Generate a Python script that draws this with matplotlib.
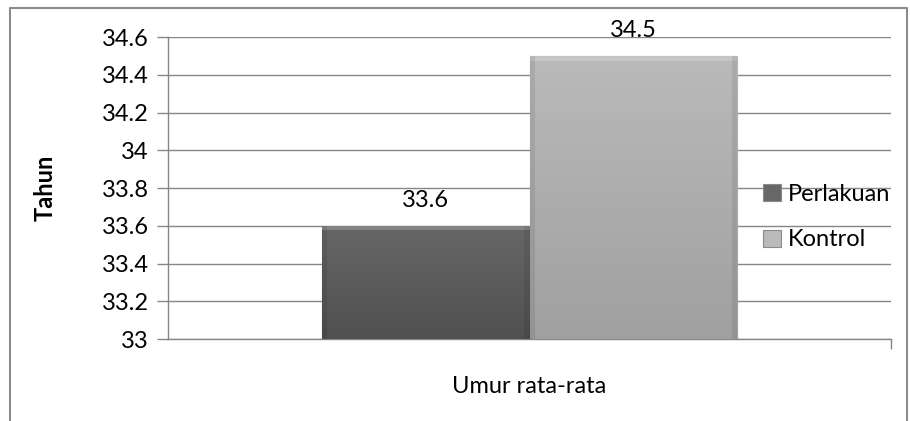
import numpy as np
import matplotlib.pyplot as plt
from matplotlib.patches import Rectangle
from matplotlib.lines import Line2D

# data
category = 'Umur rata-rata'
series = ['Perlakuan', 'Kontrol']
values = [33.6, 34.5]
colors_top = ['#676767', '#bababa']
colors_bot = ['#505050', '#a0a0a0']
yticks = [33, 33.2, 33.4, 33.6, 33.8, 34, 34.2, 34.4, 34.6]

plt.rcParams['font.family'] = ['Lato', 'DejaVu Sans']
fs = 17

fig = plt.figure(figsize=(9.1, 4.21), dpi=100)
ax = fig.add_axes([168 / 910, 82 / 421, 723 / 910, 302 / 421])

# outer chart border
fig.add_artist(Line2D([10 / 910, 10 / 910, 907 / 910, 907 / 910],
                      [0, 1 - 8 / 421, 1 - 8 / 421, 0],
                      transform=fig.transFigure, color='#8c8c8c', lw=1.5))

width = 0.287
offsets = [-width / 2, width / 2]
ylo = yticks[0]
for i, (name, v) in enumerate(zip(series, values)):
    b = ax.bar(offsets[i], v - ylo, width, bottom=ylo, color=colors_top[i],
               edgecolor='#8a8a8a', linewidth=0.8, label=name, zorder=3)[0]
    # vertical gradient clipped to the bar
    c1 = np.array(plt.matplotlib.colors.to_rgb(colors_top[i]))
    c2 = np.array(plt.matplotlib.colors.to_rgb(colors_bot[i]))
    t = np.linspace(0, 1, 100)[:, None]
    grad = (c1 * (1 - t) + c2 * t)[:, None, :]
    x0 = offsets[i] - width / 2
    im = ax.imshow(grad, extent=[x0, x0 + width, ylo, v], origin='upper',
                   aspect='auto', zorder=3.5)
    im.set_clip_path(b)
    # soft bevel along the top and sides
    ax.add_patch(Rectangle((x0, v - 0.025), width, 0.025,
                           facecolor='white', alpha=0.2, lw=0, zorder=4))
    ax.add_patch(Rectangle((x0, ylo), 0.007, v - ylo,
                           facecolor='black', alpha=0.08, lw=0, zorder=4))
    ax.add_patch(Rectangle((x0 + width - 0.007, ylo), 0.007, v - ylo,
                           facecolor='black', alpha=0.08, lw=0, zorder=4))
    ax.text(offsets[i], v + 0.135, f'{v}', ha='center', va='center',
            fontsize=fs, color='black', zorder=5)

ax.set_xlim(-0.5, 0.5)
ax.set_ylim(33, 34.6)
ax.set_yticks(yticks)
ax.set_yticklabels([f'{y:g}' for y in yticks], fontsize=fs)
ax.set_xticks([0.5])
ax.set_xticklabels([''])
ax.tick_params(axis='y', direction='out', length=8, width=1, color='#868686', pad=6)
ax.tick_params(axis='x', direction='out', length=7, width=1, color='#868686')
ax.yaxis.grid(True, color='#868686', lw=1)
ax.set_axisbelow(True)
for s in ['top', 'right']:
    ax.spines[s].set_visible(False)
for s in ['left', 'bottom']:
    ax.spines[s].set_color('#868686')
    ax.spines[s].set_linewidth(1)

ax.set_xlabel(category, fontsize=fs, labelpad=16)
ax.set_ylabel('Tahun', fontsize=fs, fontweight='bold', labelpad=32)

leg = ax.legend(loc='center left', bbox_to_anchor=(754 / 910, 1 - 217 / 421),
                bbox_transform=fig.transFigure, frameon=False, fontsize=fs,
                handlelength=0.75, handleheight=0.75, handletextpad=0.3,
                labelspacing=1.05, borderaxespad=0)

plt.savefig('out.png', dpi=100)
